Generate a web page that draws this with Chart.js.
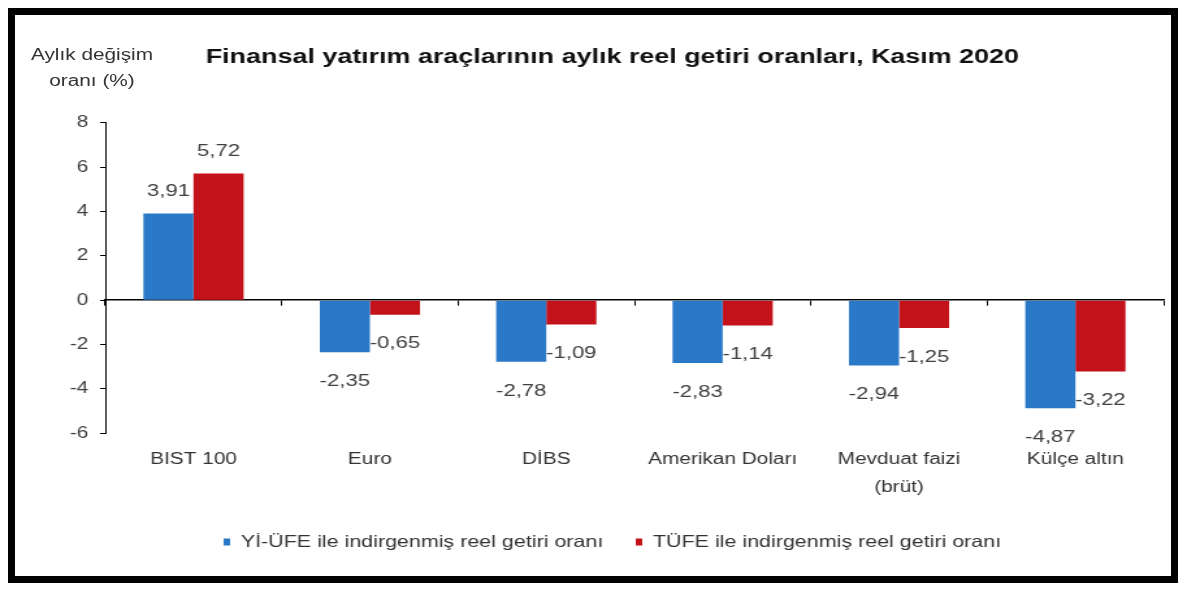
<!DOCTYPE html>
<html lang="tr">
<head>
    <meta charset="UTF-8">
    <title>Finansal yatırım araçlarının aylık reel getiri oranları</title>
    <script src="https://cdn.jsdelivr.net/npm/chart.js"></script>
    <style>
        html, body { margin: 0; padding: 0; background: #fff; }
        body { width: 1200px; height: 605px; position: relative; overflow: hidden; font-family: "Liberation Sans", Arial, sans-serif; }
        #chart { position: absolute; left: 0; top: 0; }
        .frame { position: absolute; left: 8px; top: 8px; width: 1170px; height: 575px; box-sizing: border-box; border: 7px solid #000; pointer-events: none; }
        .ytitle { position: absolute; left: -8px; top: 42px; width: 200px; text-align: center; font-size: 16px; line-height: 26px; color: #333; transform: scaleX(1.3); }
    </style>
</head>
<body>
    <!-- canvas is drawn narrower and stretched, the original picture is stretched sideways -->
    <canvas id="chart" width="923" height="605" style="width:1200px;height:605px"></canvas>
    <div class="ytitle">Aylık değişim<br>oranı (%)</div>
    <div class="frame"></div>

<script>
    const categories = ['BIST 100', 'Euro', 'DİBS', 'Amerikan Doları', ['Mevduat faizi', '(brüt)'], 'Külçe altın'];
    const yiufeValues = [3.91, -2.35, -2.78, -2.83, -2.94, -4.87];
    const tufeValues = [5.72, -0.65, -1.09, -1.14, -1.25, -3.22];
    const seriesNames = ['Yİ-ÜFE ile indirgenmiş reel getiri oranı', 'TÜFE ile indirgenmiş reel getiri oranı'];
    const yTicks = [-6, -4, -2, 0, 2, 4, 6, 8];

    // değerleri çubukların ucuna yaz (virgüllü)
    const valueLabels = {
        id: 'valueLabels',
        afterDatasetsDraw(chart) {
            const ctx = chart.ctx;
            ctx.save();
            ctx.font = '17px "Liberation Sans", Arial, sans-serif';
            ctx.fillStyle = '#404040';
            ctx.textAlign = 'center';
            ctx.textBaseline = 'middle';
            chart.data.datasets.forEach((ds, i) => {
                chart.getDatasetMeta(i).data.forEach((bar, j) => {
                    const v = ds.data[j];
                    const txt = v.toFixed(2).replace('.', ',');
                    const y = v >= 0 ? bar.y - 22 : bar.y + 29;
                    ctx.fillText(txt, bar.x, y);
                });
            });
            ctx.restore();
        }
    };

    const ctx = document.getElementById('chart').getContext('2d');
    new Chart(ctx, {
        type: 'bar',
        data: {
            labels: categories,
            datasets: [
                {
                    label: seriesNames[0],
                    data: yiufeValues,
                    backgroundColor: '#2A78C8',
                    borderWidth: 0
                },
                {
                    label: seriesNames[1],
                    data: tufeValues,
                    backgroundColor: '#C4121A',
                    borderWidth: 0
                }
            ]
        },
        options: {
            responsive: false,
            devicePixelRatio: 1,
            animation: false,
            datasets: {
                bar: { categoryPercentage: 0.568, barPercentage: 1 }
            },
            layout: {
                padding: { left: 47, right: 28, top: 0, bottom: 44.75 }
            },
            scales: {
                x: {
                    position: { y: 0 },
                    ticks: { display: false },
                    grid: { display: true, drawOnChartArea: false, drawTicks: true, tickLength: 5, color: '#000', lineWidth: 1 },
                    border: { display: true, color: '#000', width: 1.6 }
                },
                x2: {
                    type: 'category',
                    position: 'bottom',
                    offset: true,
                    grid: { display: false, drawTicks: false },
                    border: { display: false },
                    ticks: {
                        padding: 12,
                        color: '#333',
                        maxRotation: 0,
                        autoSkip: false,
                        font: { family: '"Liberation Sans", Arial, sans-serif', size: 16, lineHeight: 1.75 }
                    },
                    afterFit(scale) { scale.height = 75.5; }
                },
                y: {
                    min: -6,
                    max: 8,
                    afterBuildTicks(scale) { scale.ticks = yTicks.map(v => ({ value: v })); },
                    grid: { display: true, drawOnChartArea: false, drawTicks: true, tickLength: 4, color: '#000' },
                    border: { display: true, color: '#000', width: 1 },
                    ticks: {
                        padding: 9,
                        color: '#404040',
                        font: { family: '"Liberation Sans", Arial, sans-serif', size: 16 }
                    },
                    afterFit(scale) { scale.width = 34; }
                }
            },
            plugins: {
                title: {
                    display: true,
                    text: 'Finansal yatırım araçlarının aylık reel getiri oranları, Kasım 2020',
                    color: '#111',
                    font: { family: '"Liberation Sans", Arial, sans-serif', size: 20.7, weight: 'bold' },
                    padding: { top: 45, bottom: 53 }
                },
                legend: {
                    position: 'bottom',
                    labels: {
                        boxWidth: 5,
                        boxHeight: 7,
                        padding: 25,
                        color: '#333',
                        font: { family: '"Liberation Sans", Arial, sans-serif', size: 16.5 }
                    }
                },
                tooltip: { enabled: false }
            }
        },
        plugins: [valueLabels]
    });
</script>
</body>
</html>
